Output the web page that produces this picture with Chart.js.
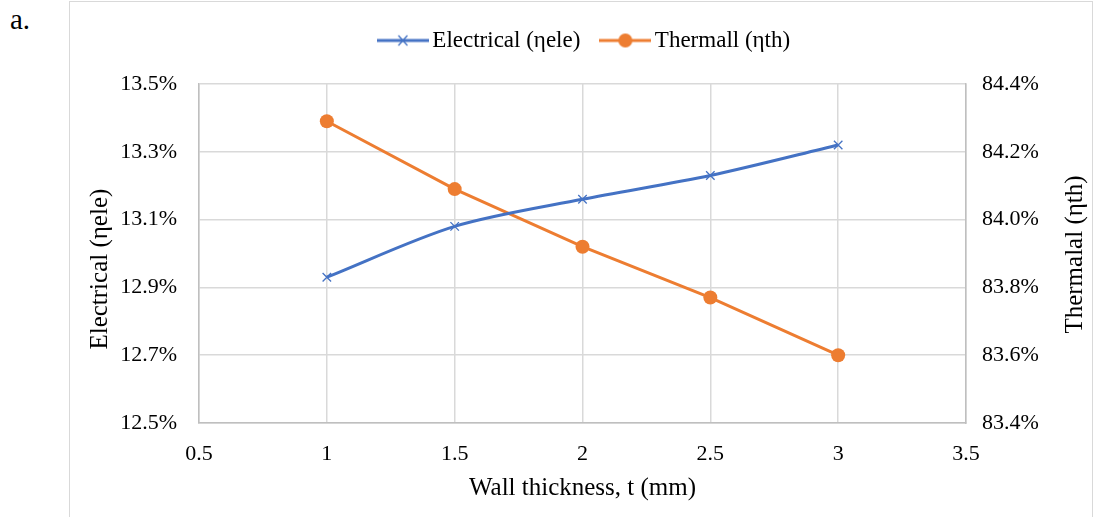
<!DOCTYPE html>
<html>
<head>
<meta charset="utf-8">
<script src="https://cdn.jsdelivr.net/npm/chart.js@4"></script>
<style>
  body { margin: 0; background: #fff; font-family: "Liberation Serif", serif; }
  #lbl { position: absolute; left: 10px; top: 5px; font-size: 29px; line-height: 1; color: #000; }
  #frame { position: absolute; left: 69px; top: 1px; width: 1024px; height: 520px;
           border: 1px solid #d9d9d9; box-sizing: border-box; }
  #wrap { position: absolute; left: 0; top: 0; width: 1022px; height: 516px; }
</style>
</head>
<body>
<div id="lbl">a.</div>
<div id="frame"><div id="wrap"><canvas id="c"></canvas></div></div>
<script>
const thickness = [1, 1.5, 2, 2.5, 3];
const electrical = [12.93, 13.08, 13.16, 13.23, 13.32];
const thermal = [84.29, 84.09, 83.92, 83.77, 83.60];
const xTicks = [0.5, 1, 1.5, 2, 2.5, 3, 3.5];
const rightTitle = 'Thermalal (ηth)';

const blue = '#4472C4';
const orange = '#ED7D31';
const font = 'Liberation Serif';

// little line + marker swatches for the legend
function swatch(color, kind) {
    const c = document.createElement('canvas');
    c.width = 52; c.height = 16;
    const g = c.getContext('2d');
    g.strokeStyle = color; g.lineWidth = 3;
    g.beginPath(); g.moveTo(0, 8); g.lineTo(52, 8); g.stroke();
    if (kind === 'x') {
        g.lineWidth = 1.3;
        g.beginPath();
        g.moveTo(21.5, 3); g.lineTo(30.5, 13);
        g.moveTo(30.5, 3); g.lineTo(21.5, 13);
        g.stroke();
    } else {
        g.fillStyle = color;
        g.beginPath(); g.arc(26, 8, 7, 0, Math.PI * 2); g.fill();
    }
    return c;
}
const swatches = [swatch(blue, 'x'), swatch(orange, 'o')];

// extra room under the legend
const legendGap = {
    id: 'legendGap',
    beforeInit(chart) {
        const lg = chart.legend;
        if (!lg) return;
        const fit = lg.fit;
        lg.fit = function () { fit.call(this); this.height += 22; };
    }
};

// right axis title reads bottom-to-top like the left one
const rightTitlePlugin = {
    id: 'rightTitle',
    afterDraw(chart) {
        const s = chart.scales.y2;
        const ctx = chart.ctx;
        ctx.save();
        ctx.translate(s.right - 15, (chart.chartArea.top + chart.chartArea.bottom) / 2 + 1);
        ctx.rotate(-Math.PI / 2);
        ctx.font = '25px "' + font + '"';
        ctx.fillStyle = '#000';
        ctx.textAlign = 'center';
        ctx.textBaseline = 'middle';
        ctx.fillText(rightTitle, 0, 0);
        ctx.restore();
    }
};

new Chart(document.getElementById('c'), {
    type: 'line',
    data: {
        datasets: [{
            label: 'Electrical (ηele)',
            data: thickness.map((t, i) => ({ x: t, y: electrical[i] })),
            yAxisID: 'y',
            borderColor: blue,
            backgroundColor: blue,
            borderWidth: 3,
            tension: 0.3,
            pointStyle: 'crossRot',
            pointRadius: 6,
            pointBorderWidth: 1.3,
            pointBorderColor: blue
        }, {
            label: 'Thermall (ηth)',
            data: thickness.map((t, i) => ({ x: t, y: thermal[i] })),
            yAxisID: 'y2',
            borderColor: orange,
            backgroundColor: orange,
            borderWidth: 3,
            tension: 0,
            pointStyle: 'circle',
            pointRadius: 7,
            pointBorderWidth: 0
        }]
    },
    plugins: [legendGap, rightTitlePlugin],
    options: {
        responsive: true,
        maintainAspectRatio: false,
        animation: false,
        layout: { padding: { left: 15, right: 2, top: 0, bottom: 0 } },
        plugins: {
            tooltip: { enabled: false },
            legend: {
                position: 'top',
                labels: {
                    usePointStyle: true,
                    pointStyleWidth: 36,
                    color: '#000',
                    font: { family: font, size: 23 },
                    padding: 27,
                    generateLabels: chart => Chart.defaults.plugins.legend.labels.generateLabels(chart)
                        .map((l, i) => Object.assign(l, { pointStyle: swatches[i] }))
                }
            }
        },
        scales: {
            x: {
                type: 'linear',
                min: 0.5, max: 3.5,
                afterBuildTicks: s => { s.ticks = xTicks.map(v => ({ value: v })); },
                afterFit: s => { s.height = 95; },
                grid: { color: '#d9d9d9', lineWidth: 1.5, drawTicks: false },
                border: { color: '#bfbfbf', width: 1.5 },
                ticks: { color: '#000', font: { family: font, size: 22 }, padding: 18, maxRotation: 0,
                         callback: v => String(v) },
                title: { display: true, text: 'Wall thickness, t (mm)', color: '#000',
                         font: { family: font, size: 25 }, padding: { top: 0, bottom: 15 } }
            },
            y: {
                position: 'left',
                min: 12.5, max: 13.5,
                ticks: { stepSize: 0.2, color: '#000', font: { family: font, size: 22 }, padding: 22,
                         callback: v => v.toFixed(1) + '%' },
                afterFit: s => { s.width = 114; },
                grid: { color: '#d9d9d9', lineWidth: 1.5, drawTicks: false },
                border: { color: '#bfbfbf', width: 1.5 },
                title: { display: true, text: 'Electrical (ηele)\u00a0\u00a0\u00a0\u00a0\u00a0', color: '#000',
                         font: { family: font, size: 25 }, padding: 0 }
            },
            y2: {
                position: 'right',
                min: 83.4, max: 84.4,
                ticks: { stepSize: 0.2, color: '#000', font: { family: font, size: 22 }, padding: 16,
                         callback: v => v.toFixed(1) + '%' },
                afterFit: s => { s.width = 124; },
                grid: { drawOnChartArea: false, drawTicks: false },
                border: { color: '#bfbfbf', width: 1.5 },
                title: { display: false }
            }
        }
    }
});
</script>
</body>
</html>
